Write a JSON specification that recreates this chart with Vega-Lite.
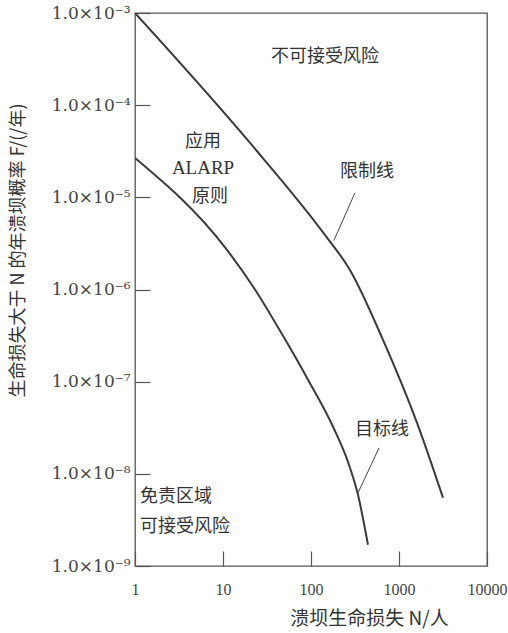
{
  "$schema": "https://vega.github.io/schema/vega-lite/v6.json",
  "width": 352,
  "height": 553,
  "autosize": {"type": "none"},
  "padding": {"left": 135, "top": 13, "right": 21, "bottom": 67},
  "background": "white",
  "config": {
    "view": {"stroke": "#555", "strokeWidth": 1.3},
    "axis": {"domain": false, "grid": false, "tickColor": "#555", "tickWidth": 1.2, "labelColor": "#444", "titleColor": "#333", "titleFontWeight": "normal"}
  },
  "datasets": {
    "curves": [
      {"series": "limit", "N": 1, "F": 1e-3},
      {"series": "limit", "N": 20.3, "F": 3.89e-5},
      {"series": "limit", "N": 144, "F": 3.91e-6},
      {"series": "limit", "N": 277, "F": 1.63e-6},
      {"series": "limit", "N": 658, "F": 2.84e-7},
      {"series": "limit", "N": 1603, "F": 3.57e-8},
      {"series": "limit", "N": 3162, "F": 5.5e-9},
      {"series": "target", "N": 1, "F": 2.67e-5},
      {"series": "target", "N": 11.1, "F": 2.69e-6},
      {"series": "target", "N": 22.5, "F": 1.04e-6},
      {"series": "target", "N": 48.1, "F": 3.14e-7},
      {"series": "target", "N": 92.5, "F": 1.05e-7},
      {"series": "target", "N": 178, "F": 3.24e-8},
      {"series": "target", "N": 263, "F": 1.35e-8},
      {"series": "target", "N": 342, "F": 5.92e-9},
      {"series": "target", "N": 444, "F": 1.7e-9}
    ],
    "leaders": [
      {"series": "limitLeader", "N": 316, "F": 1.12e-5},
      {"series": "limitLeader", "N": 182, "F": 3.4e-6},
      {"series": "targetLeader", "N": 593, "F": 1.91e-8},
      {"series": "targetLeader", "N": 342, "F": 6.2e-9}
    ],
    "labels": [
      {"N": 144, "F": 3.3e-4, "text": "不可接受风险"},
      {"N": 433, "F": 1.88e-5, "text": "限制线"},
      {"N": 641, "F": 3.0e-8, "text": "目标线"},
      {"N": 5.93, "F": 3.99e-5, "text": "应用"},
      {"N": 7.11, "F": 1.01e-5, "text": "原则"}
    ],
    "leftLabels": [
      {"N": 1.14, "F": 5.6e-9, "text": "免责区域"},
      {"N": 1.14, "F": 2.65e-9, "text": "可接受风险"}
    ],
    "alarp": [
      {"N": 5.93, "F": 2.08e-5, "text": "ALARP"}
    ]
  },
  "layer": [
    {
      "data": {"name": "curves"},
      "mark": {"type": "line", "color": "#3a3a3a", "strokeWidth": 2, "interpolate": "monotone", "clip": true},
      "encoding": {
        "x": {
          "field": "N", "type": "quantitative",
          "scale": {"type": "log", "domain": [1, 10000], "nice": false},
          "axis": {
            "values": [1, 10, 100, 1000, 10000],
            "format": "d",
            "tickSize": -15,
            "labelPadding": 30,
            "labelFont": "Liberation Serif",
            "labelFontSize": 16,
            "labelFlush": false,
            "labelOverlap": false,
            "title": "溃坝生命损失 N/人",
            "titleFont": "Noto Sans CJK SC",
            "titleFontSize": 19,
            "titleX": 234,
            "titleY": 52,
            "titleBaseline": "middle"
          }
        },
        "y": {
          "field": "F", "type": "quantitative",
          "scale": {"type": "log", "domain": [1e-9, 1e-3], "nice": false},
          "axis": {
            "values": [1e-9, 1e-8, 1e-7, 1e-6, 1e-5, 1e-4, 1e-3],
            "labelExpr": "'1.0×10⁻' + ['','¹','²','³','⁴','⁵','⁶','⁷','⁸','⁹'][round(-log(datum.value)/LN10)]",
            "tickSize": -15,
            "labelPadding": 20,
            "labelFont": "DejaVu Serif",
            "labelFontSize": 17,
            "labelFlush": false,
            "labelOverlap": false,
            "title": "生命损失大于 N 的年溃坝概率 F/(/年)",
            "titleFont": "Noto Sans CJK SC",
            "titleFontSize": 18,
            "titleX": -117,
            "titleY": 237,
            "titleBaseline": "middle"
          }
        },
        "detail": {"field": "series"}
      }
    },
    {
      "data": {"name": "leaders"},
      "mark": {"type": "line", "color": "#444", "strokeWidth": 1},
      "encoding": {
        "x": {"field": "N", "type": "quantitative"},
        "y": {"field": "F", "type": "quantitative"},
        "detail": {"field": "series"}
      }
    },
    {
      "data": {"name": "labels"},
      "mark": {"type": "text", "font": "Noto Sans CJK SC", "fontSize": 18, "color": "#333", "align": "center", "baseline": "middle"},
      "encoding": {
        "x": {"field": "N", "type": "quantitative"},
        "y": {"field": "F", "type": "quantitative"},
        "text": {"field": "text"}
      }
    },
    {
      "data": {"name": "leftLabels"},
      "mark": {"type": "text", "font": "Noto Sans CJK SC", "fontSize": 18, "color": "#333", "align": "left", "baseline": "middle"},
      "encoding": {
        "x": {"field": "N", "type": "quantitative"},
        "y": {"field": "F", "type": "quantitative"},
        "text": {"field": "text"}
      }
    },
    {
      "data": {"name": "alarp"},
      "mark": {"type": "text", "font": "Liberation Serif", "fontSize": 19, "color": "#333", "align": "center", "baseline": "middle"},
      "encoding": {
        "x": {"field": "N", "type": "quantitative"},
        "y": {"field": "F", "type": "quantitative"},
        "text": {"field": "text"}
      }
    }
  ]
}
